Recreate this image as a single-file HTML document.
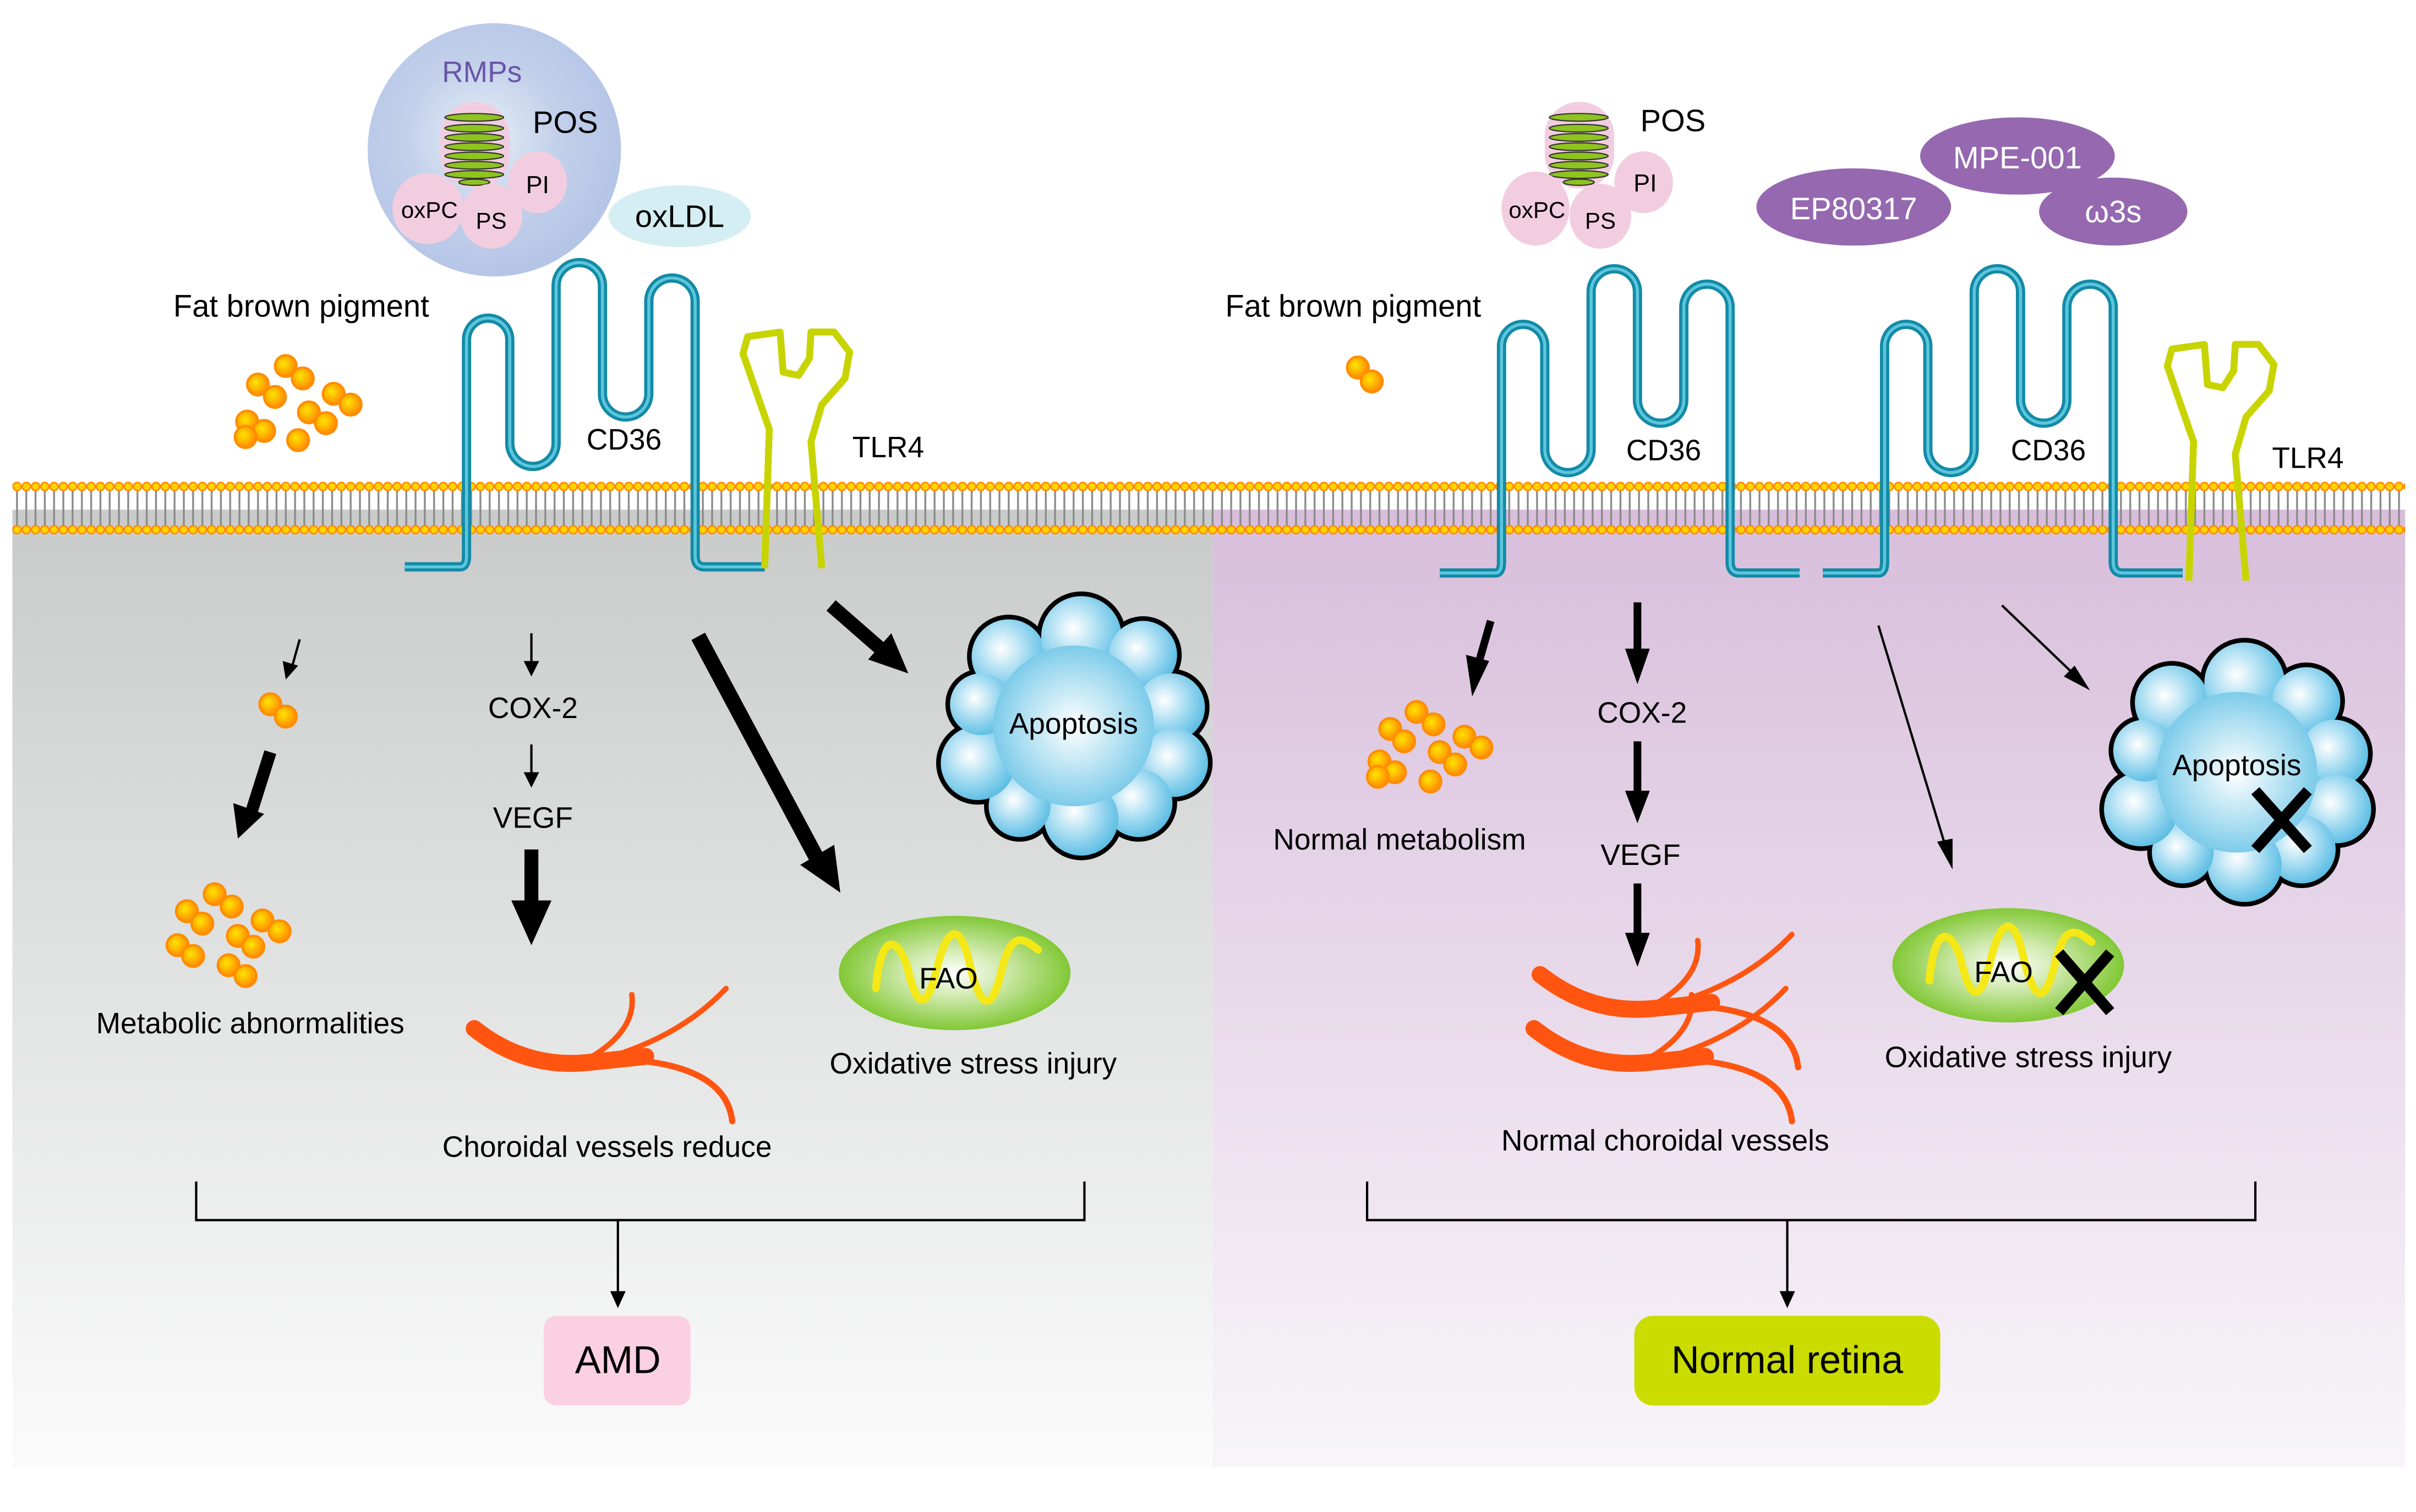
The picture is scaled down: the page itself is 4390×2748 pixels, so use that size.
<!DOCTYPE html>
<html><head><meta charset="utf-8"><style>
html,body{margin:0;padding:0;background:#fff}
svg{display:block}
text{font-family:"Liberation Sans",Arial,sans-serif}
</style></head><body>
<svg width="4390" height="2748" viewBox="0 0 1564 979" preserveAspectRatio="none" xmlns="http://www.w3.org/2000/svg">
<defs>
<linearGradient id="gl" x1="0" y1="0" x2="0" y2="1"><stop offset="0" stop-color="#c9cbcb"/><stop offset="1" stop-color="#fbfbfb"/></linearGradient>
<linearGradient id="gr" x1="0" y1="0" x2="0" y2="1"><stop offset="0" stop-color="#d8bedb"/><stop offset="1" stop-color="#f8f5f9"/></linearGradient>
<radialGradient id="rmp" cx="0.45" cy="0.45" r="0.6"><stop offset="0" stop-color="#e6f0f8"/><stop offset="0.5" stop-color="#c2d0ea"/><stop offset="1" stop-color="#b3c3e6"/></radialGradient>
<radialGradient id="bub" cx="0.4" cy="0.4" r="0.7"><stop offset="0" stop-color="#ffffff"/><stop offset="0.6" stop-color="#8fd3ee"/><stop offset="1" stop-color="#4bb6e0"/></radialGradient>
<radialGradient id="bubc" cx="0.5" cy="0.5" r="0.5"><stop offset="0" stop-color="#ffffff"/><stop offset="0.7" stop-color="#a6dcf0"/><stop offset="1" stop-color="#7ccbea"/></radialGradient>
<radialGradient id="fao" cx="0.5" cy="0.5" r="0.5"><stop offset="0" stop-color="#ffffff"/><stop offset="0.45" stop-color="#cce8a8"/><stop offset="1" stop-color="#82c836"/></radialGradient>
<radialGradient id="dot" cx="0.4" cy="0.4" r="0.6"><stop offset="0" stop-color="#ffe400"/><stop offset="1" stop-color="#ff8a00"/></radialGradient>
<pattern id="mem" x="8" y="0" width="6" height="979" patternUnits="userSpaceOnUse">
<line x1="3" y1="317" x2="3" y2="341" stroke="#8a8a8a" stroke-width="1.2"/>
<circle cx="3" cy="315" r="2.6" fill="#ffd400" stroke="#ff8c00" stroke-width="1"/>
<circle cx="3" cy="343" r="2.6" fill="#ffd400" stroke="#ff8c00" stroke-width="1"/>
</pattern>
<g id="cd36">
<path d="M262,367 H298 Q302,367 302,360 V220 A14,14 0 0 1 330,220 V287 A15,15 0 0 0 360,287 V185 A15,15 0 0 1 390,185 V255 A15,15 0 0 0 420,255 V195 A15,15 0 0 1 450,195 V360 Q450,367 456,367 H495" fill="none" stroke="#138aa6" stroke-width="6"/>
<path d="M262,367 H298 Q302,367 302,360 V220 A14,14 0 0 1 330,220 V287 A15,15 0 0 0 360,287 V185 A15,15 0 0 1 390,185 V255 A15,15 0 0 0 420,255 V195 A15,15 0 0 1 450,195 V360 Q450,367 456,367 H495" fill="none" stroke="#5cc6dc" stroke-width="2"/>
</g>
<polyline id="tlr" points="495,368 498,278 481,229 484,218 505,215 507,241 517,243 524,232 525,215 540,215 550,228 547,245 532,262 525,286 532,368" fill="none" stroke="#c8d400" stroke-width="4.5" stroke-linejoin="round"/>
<g id="pd"><circle r="7" fill="url(#dot)" stroke="#ff8c00" stroke-width="1.5"/></g>
<g id="cloud">
<g stroke="#000" stroke-width="6" fill="#000">
<circle cx="-42" cy="-45" r="24"/><circle cx="5" cy="-58" r="26"/><circle cx="45" cy="-46" r="22"/><circle cx="63" cy="-12" r="22"/><circle cx="65" cy="24" r="22"/><circle cx="42" cy="50" r="22"/><circle cx="5" cy="60" r="24"/><circle cx="-35" cy="52" r="20"/><circle cx="-62" cy="24" r="24"/><circle cx="-60" cy="-14" r="20"/><circle cx="0" cy="0" r="50"/>
</g>
<g fill="url(#bub)">
<circle cx="-42" cy="-45" r="24"/><circle cx="5" cy="-58" r="26"/><circle cx="45" cy="-46" r="22"/><circle cx="63" cy="-12" r="22"/><circle cx="65" cy="24" r="22"/><circle cx="42" cy="50" r="22"/><circle cx="5" cy="60" r="24"/><circle cx="-35" cy="52" r="20"/><circle cx="-62" cy="24" r="24"/><circle cx="-60" cy="-14" r="20"/>
</g>
<circle cx="0" cy="0" r="52" fill="url(#bubc)"/>
</g>
<g id="vessel" fill="none" stroke="#ff5510" stroke-linecap="round">
<path d="M307,666 Q340,692 380,688 Q400,686 418,684" stroke-width="11"/>
<path d="M380,686 Q412,668 409,644" stroke-width="3.5"/>
<path d="M389,686 Q440,672 470,640" stroke-width="3.5"/>
<path d="M405,686 Q470,690 474,726" stroke-width="4"/>
</g>
</defs>

<rect x="8" y="330" width="777" height="620" fill="url(#gl)"/>
<rect x="785" y="330" width="772" height="620" fill="url(#gr)"/>
<rect x="8" y="310" width="1549" height="38" fill="url(#mem)"/>

<!-- LEFT TOP -->
<circle cx="320" cy="97" r="82" fill="url(#rmp)"/>
<text x="312" y="53" font-size="19" fill="#6a55a8" text-anchor="middle">RMPs</text>
<rect x="285" y="66" width="45" height="56" rx="22" fill="#f2cde0"/>
<g fill="#8fc31f" stroke="#333" stroke-width="0.8">
<ellipse cx="307" cy="76" rx="19" ry="2.5"/><ellipse cx="307" cy="83" rx="19" ry="2.5"/><ellipse cx="307" cy="89" rx="19" ry="2.5"/><ellipse cx="307" cy="95" rx="19" ry="2.5"/><ellipse cx="307" cy="101" rx="19" ry="2.5"/><ellipse cx="307" cy="107" rx="19" ry="2.5"/><ellipse cx="307" cy="113" rx="19" ry="2.5"/><ellipse cx="307" cy="118" rx="10" ry="2"/>
</g>
<ellipse cx="348" cy="118" rx="19" ry="20" fill="#f2cde0"/>
<ellipse cx="277" cy="135" rx="23" ry="23" fill="#f2cde0"/>
<ellipse cx="318" cy="140" rx="20" ry="21" fill="#f2cde0"/>
<text x="366" y="86" font-size="20" text-anchor="middle">POS</text>
<text x="348" y="125" font-size="16" text-anchor="middle">PI</text>
<text x="278" y="141" font-size="15" text-anchor="middle">oxPC</text>
<text x="318" y="148" font-size="15" text-anchor="middle">PS</text>
<ellipse cx="440" cy="140" rx="46" ry="20" fill="#d4eef3"/>
<text x="440" y="147" font-size="20" text-anchor="middle">oxLDL</text>
<text x="195" y="205" font-size="20" text-anchor="middle">Fat brown pigment</text>
<g>
<use href="#pd" x="185" y="237"/><use href="#pd" x="196" y="245"/><use href="#pd" x="167" y="249"/><use href="#pd" x="178" y="257"/><use href="#pd" x="216" y="255"/><use href="#pd" x="227" y="262"/><use href="#pd" x="200" y="267"/><use href="#pd" x="211" y="274"/><use href="#pd" x="160" y="273"/><use href="#pd" x="171" y="279"/><use href="#pd" x="159" y="283"/><use href="#pd" x="193" y="285"/>
</g>
<use href="#cd36"/>
<text x="404" y="291" font-size="19" text-anchor="middle">CD36</text>
<use href="#tlr"/>
<text x="575" y="296" font-size="19" text-anchor="middle">TLR4</text>

<!-- RIGHT TOP -->
<rect x="1000" y="66" width="45" height="56" rx="22" fill="#f2cde0"/>
<g fill="#8fc31f" stroke="#333" stroke-width="0.8">
<ellipse cx="1022" cy="76" rx="19" ry="2.5"/><ellipse cx="1022" cy="83" rx="19" ry="2.5"/><ellipse cx="1022" cy="89" rx="19" ry="2.5"/><ellipse cx="1022" cy="95" rx="19" ry="2.5"/><ellipse cx="1022" cy="101" rx="19" ry="2.5"/><ellipse cx="1022" cy="107" rx="19" ry="2.5"/><ellipse cx="1022" cy="113" rx="19" ry="2.5"/><ellipse cx="1022" cy="118" rx="10" ry="2"/>
</g>
<ellipse cx="1064" cy="118" rx="19" ry="20" fill="#f2cde0"/>
<ellipse cx="994" cy="135" rx="22" ry="24" fill="#f2cde0"/>
<ellipse cx="1036" cy="140" rx="20" ry="21" fill="#f2cde0"/>
<text x="1083" y="85" font-size="20" text-anchor="middle">POS</text>
<text x="1065" y="124" font-size="16" text-anchor="middle">PI</text>
<text x="995" y="141" font-size="15" text-anchor="middle">oxPC</text>
<text x="1036" y="148" font-size="15" text-anchor="middle">PS</text>
<g fill="#9568b0">
<ellipse cx="1306" cy="101" rx="63" ry="25"/>
<ellipse cx="1200" cy="134" rx="63" ry="25"/>
<ellipse cx="1368" cy="137" rx="48" ry="22"/>
</g>
<text x="1306" y="109" font-size="20" fill="#fff" text-anchor="middle">MPE-001</text>
<text x="1200" y="142" font-size="20" fill="#fff" text-anchor="middle">EP80317</text>
<text x="1368" y="144" font-size="20" fill="#fff" text-anchor="middle">ω3s</text>
<text x="876" y="205" font-size="20" text-anchor="middle">Fat brown pigment</text>
<use href="#pd" x="879" y="238"/><use href="#pd" x="888" y="247"/>
<use href="#cd36" x="670" y="4"/>
<text x="1077" y="298" font-size="19" text-anchor="middle">CD36</text>
<use href="#cd36" x="918" y="4"/>
<text x="1326" y="298" font-size="19" text-anchor="middle">CD36</text>
<use href="#tlr" x="922" y="8"/>
<text x="1494" y="303" font-size="19" text-anchor="middle">TLR4</text>

<!-- LEFT BOTTOM -->
<g stroke="#000" fill="none">
<line x1="194" y1="414" x2="189" y2="432" stroke-width="1.5"/>
<line x1="344" y1="410" x2="344" y2="430" stroke-width="1.5"/>
<line x1="344" y1="482" x2="344" y2="502" stroke-width="1.5"/>
<line x1="175" y1="487" x2="163" y2="525" stroke-width="8"/>
<line x1="344" y1="550" x2="344" y2="590" stroke-width="9"/>
<line x1="452" y1="412" x2="530" y2="558" stroke-width="10"/>
<line x1="538" y1="392" x2="570" y2="420" stroke-width="9"/>
</g>
<g fill="#000">
<polygon points="185,440 183,428 193,431"/>
<polygon points="344,438 339,428 349,428"/>
<polygon points="344,510 339,500 349,500"/>
<polygon points="154,543 151,520 171,527"/>
<polygon points="344,612 331,583 357,583"/>
<polygon points="544,578 518,560 540,547"/>
<polygon points="588,436 562,427 577,410"/>
</g>
<use href="#pd" x="175" y="456"/><use href="#pd" x="185" y="464"/>
<text x="345" y="465" font-size="19" text-anchor="middle">COX-2</text>
<text x="345" y="536" font-size="19" text-anchor="middle">VEGF</text>
<g>
<use href="#pd" x="139" y="579"/><use href="#pd" x="150" y="587"/><use href="#pd" x="121" y="590"/><use href="#pd" x="131" y="598"/><use href="#pd" x="170" y="596"/><use href="#pd" x="181" y="603"/><use href="#pd" x="154" y="606"/><use href="#pd" x="164" y="613"/><use href="#pd" x="115" y="612"/><use href="#pd" x="125" y="619"/><use href="#pd" x="148" y="625"/><use href="#pd" x="159" y="632"/>
</g>
<text x="162" y="669" font-size="19" text-anchor="middle">Metabolic abnormalities</text>
<use href="#vessel"/>
<text x="393" y="749" font-size="19" text-anchor="middle">Choroidal vessels reduce</text>
<use href="#cloud" x="695" y="470"/>
<text x="695" y="475" font-size="19" text-anchor="middle">Apoptosis</text>
<ellipse cx="618" cy="630" rx="75" ry="37" fill="url(#fao)"/>
<path d="M567,640 C570,605 580,605 587,625 C594,655 600,655 607,625 C614,598 622,598 628,625 C635,655 642,655 648,630 C654,605 660,605 672,615" fill="none" stroke="#f5e817" stroke-width="5" stroke-linecap="round"/>
<text x="614" y="640" font-size="19" text-anchor="middle">FAO</text>
<text x="630" y="695" font-size="19" text-anchor="middle">Oxidative stress injury</text>

<!-- RIGHT BOTTOM -->
<g stroke="#000" fill="none">
<line x1="965" y1="402" x2="957" y2="430" stroke-width="5"/>
<line x1="1060" y1="390" x2="1060" y2="425" stroke-width="5"/>
<line x1="1060" y1="480" x2="1060" y2="518" stroke-width="5"/>
<line x1="1060" y1="572" x2="1060" y2="610" stroke-width="5"/>
<line x1="1216" y1="405" x2="1260" y2="550" stroke-width="1.5"/>
<line x1="1296" y1="392" x2="1344" y2="438" stroke-width="1.5"/>
</g>
<g fill="#000">
<polygon points="953,451 949,424 964,428"/>
<polygon points="1060,443 1052,420 1068,420"/>
<polygon points="1060,533 1052,512 1068,512"/>
<polygon points="1060,626 1052,604 1068,604"/>
<polygon points="1264,563 1254,545 1264,543"/>
<polygon points="1353,447 1336,438 1343,431"/>
</g>
<g>
<use href="#pd" x="917" y="461"/><use href="#pd" x="928" y="469"/><use href="#pd" x="900" y="472"/><use href="#pd" x="909" y="480"/><use href="#pd" x="948" y="477"/><use href="#pd" x="959" y="484"/><use href="#pd" x="932" y="487"/><use href="#pd" x="942" y="495"/><use href="#pd" x="893" y="493"/><use href="#pd" x="903" y="500"/><use href="#pd" x="892" y="503"/><use href="#pd" x="926" y="506"/>
</g>
<text x="906" y="550" font-size="19" text-anchor="middle">Normal metabolism</text>
<text x="1063" y="468" font-size="19" text-anchor="middle">COX-2</text>
<text x="1062" y="560" font-size="19" text-anchor="middle">VEGF</text>
<use href="#vessel" x="690" y="-35"/>
<use href="#vessel" x="686" y="0"/>
<text x="1078" y="745" font-size="19" text-anchor="middle">Normal choroidal vessels</text>
<use href="#cloud" x="1448" y="500"/>
<text x="1448" y="502" font-size="19" text-anchor="middle">Apoptosis</text>
<g stroke="#000" stroke-width="7"><line x1="1460" y1="512" x2="1494" y2="550"/><line x1="1494" y1="512" x2="1460" y2="550"/></g>
<ellipse cx="1300" cy="625" rx="75" ry="37" fill="url(#fao)"/>
<path d="M1249,635 C1252,600 1262,600 1269,620 C1276,650 1282,650 1289,620 C1296,593 1304,593 1310,620 C1317,650 1324,650 1330,625 C1336,600 1342,600 1354,610" fill="none" stroke="#f5e817" stroke-width="5" stroke-linecap="round"/>
<text x="1297" y="636" font-size="19" text-anchor="middle">FAO</text>
<g stroke="#000" stroke-width="7"><line x1="1333" y1="617" x2="1366" y2="655"/><line x1="1366" y1="617" x2="1333" y2="655"/></g>
<text x="1313" y="691" font-size="19" text-anchor="middle">Oxidative stress injury</text>

<!-- Brackets -->
<g stroke="#000" stroke-width="1.5" fill="none">
<polyline points="127,765 127,790 702,790 702,765"/>
<line x1="400" y1="790" x2="400" y2="838"/>
<polyline points="885,765 885,790 1460,790 1460,765"/>
<line x1="1157" y1="790" x2="1157" y2="838"/>
</g>
<polygon points="400,847 395,836 405,836" fill="#000"/>
<polygon points="1157,847 1152,836 1162,836" fill="#000"/>
<rect x="352" y="852" width="95" height="58" rx="8" fill="#fbd0e2"/>
<text x="400" y="889" font-size="25" text-anchor="middle">AMD</text>
<rect x="1058" y="852" width="198" height="58" rx="12" fill="#cadc00"/>
<text x="1157" y="889" font-size="25" text-anchor="middle">Normal retina</text>
</svg>
</body></html>
